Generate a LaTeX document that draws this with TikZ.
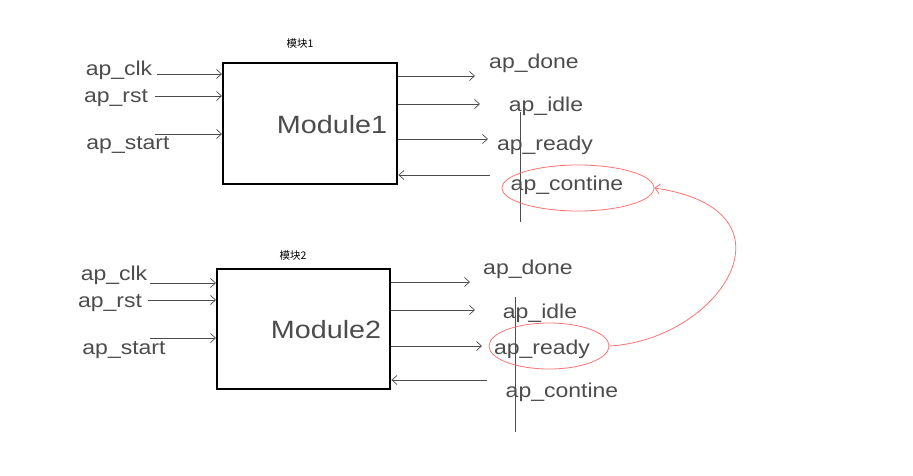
\documentclass[tikz,border=0pt]{standalone}
\usepackage{fontspec}
\setmainfont{Liberation Sans}
\newfontfamily\cjk{Noto Sans CJK SC}
\newfontfamily\handfont[FakeStretch=1.15]{Liberation Sans}
\usetikzlibrary{arrows.meta,shapes.geometric}
\begin{document}
\begin{tikzpicture}[x=1pt,y=-1pt,
  modbox/.style={draw=black,line width=2.4pt,inner sep=0pt,anchor=north west},
  hand/.style={font=\handfont\fontsize{20}{20}\selectfont,text=black!70,inner sep=0pt},
  bighand/.style={font=\handfont\fontsize{25}{25}\selectfont,text=black!70,inner sep=0pt},
  title/.style={font=\cjk\fontsize{10.5}{10.5}\selectfont,inner sep=0pt},
  sig/.style={draw=black!70,line width=0.7pt,-{Straight Barb[length=5pt,width=9pt]}},
  redline/.style={draw=red!55,line width=0.8pt}]
\useasboundingbox (0,0) rectangle (913,476);
% ---------- module 1 ----------
\node[modbox,minimum width=174pt,minimum height=121pt] (m1) at (222,62) {};
\node[title] (t1) at (300,44) {模块1};
\node[bighand] (mt1) at (332,125) {Module1};
\node[hand] (clk1) at (119,70) {ap\_clk};
\node[hand] (rst1) at (116,98) {ap\_rst};
\node[hand] (st1) at (128,145) {ap\_start};
\coordinate (i1a) at (222,74);
\coordinate (i1b) at (222,96);
\coordinate (i1c) at (222,134);
\coordinate (s1a) at (157,74);
\coordinate (s1b) at (155,96);
\coordinate (s1c) at (155,134);
\draw[sig] (s1a) -- (i1a);
\draw[sig] (s1b) -- (i1b);
\draw[sig] (s1c) -- (i1c);
\node[hand] (done1) at (534,63) {ap\_done};
\node[hand] (idle1) at (546,106) {ap\_idle};
\node[hand] (ready1) at (545,145) {ap\_ready};
\node[hand] (cont1) at (567,185) {ap\_contine};
\coordinate (o1a) at (475,76);
\coordinate (o1b) at (480,104);
\coordinate (o1c) at (488,139);
\coordinate (o1d) at (490,175);
\draw[sig] (m1.east|-o1a) -- (o1a);
\draw[sig] (m1.east|-o1b) -- (o1b);
\draw[sig] (m1.east|-o1c) -- (o1c);
\draw[sig] (o1d) -- (m1.east|-o1d);
\coordinate (v1a) at (520,112);
\coordinate (v1b) at (520,222);
\draw[draw=black!70,line width=0.7pt] (v1a) -- (v1b);
\node[redline,ellipse,draw,minimum width=152pt,minimum height=46pt,inner sep=0pt] (e1) at (578,188) {};
% ---------- module 2 ----------
\node[modbox,minimum width=173pt,minimum height=120pt] (m2) at (216,268) {};
\node[title] (t2) at (293,256) {模块2};
\node[bighand] (mt2) at (326,330) {Module2};
\node[hand] (clk2) at (114,275) {ap\_clk};
\node[hand] (rst2) at (110,303) {ap\_rst};
\node[hand] (st2) at (124,350) {ap\_start};
\coordinate (i2a) at (216,283);
\coordinate (i2b) at (216,300);
\coordinate (i2c) at (216,338);
\coordinate (s2a) at (150,283);
\coordinate (s2b) at (148,300);
\coordinate (s2c) at (150,338);
\draw[sig] (s2a) -- (i2a);
\draw[sig] (s2b) -- (i2b);
\draw[sig] (s2c) -- (i2c);
\node[hand] (done2) at (528,269) {ap\_done};
\node[hand] (idle2) at (540,313) {ap\_idle};
\node[hand] (ready2) at (542,349) {ap\_ready};
\node[hand] (cont2) at (562,392) {ap\_contine};
\coordinate (o2a) at (470,282);
\coordinate (o2b) at (475,310);
\coordinate (o2c) at (482,346);
\coordinate (o2d) at (487,380);
\draw[sig] (m2.east|-o2a) -- (o2a);
\draw[sig] (m2.east|-o2b) -- (o2b);
\draw[sig] (m2.east|-o2c) -- (o2c);
\draw[sig] (o2d) -- (m2.east|-o2d);
\coordinate (v2a) at (515,297);
\coordinate (v2b) at (515,432);
\draw[draw=black!70,line width=0.7pt] (v2a) -- (v2b);
\node[redline,ellipse,draw,minimum width=120pt,minimum height=46pt,inner sep=0pt] (e2) at (549,346) {};
% ---------- red link ----------
\draw[redline,-{Straight Barb[length=5pt,width=10pt]}] (e2.east) .. controls (720,340) and (805,210) .. (e1.east);
\end{tikzpicture}
\end{document}
